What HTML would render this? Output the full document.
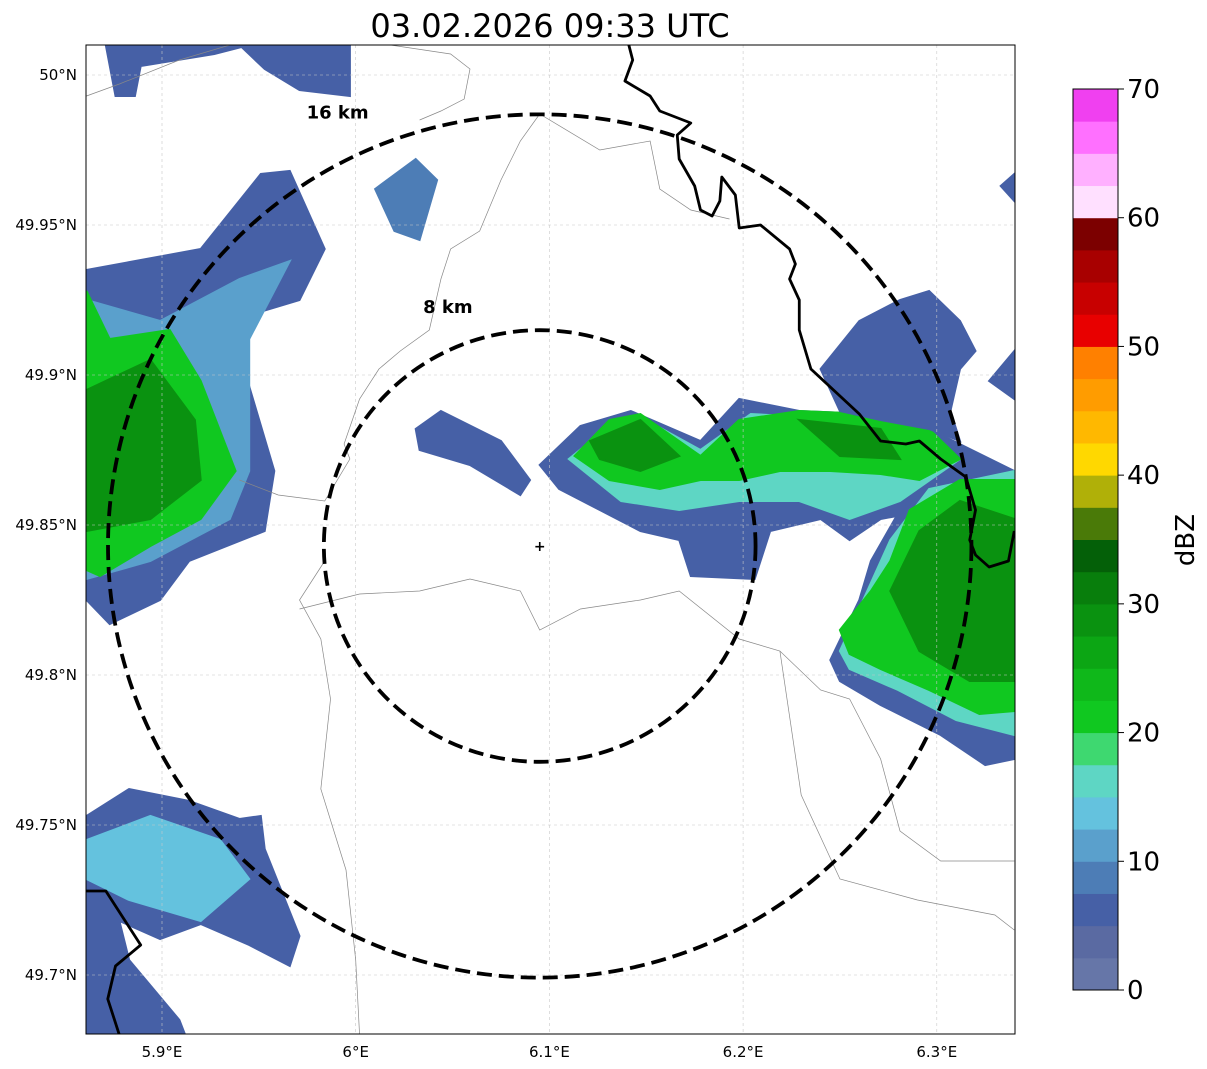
<!DOCTYPE html>
<html><head><meta charset="utf-8"><style>
html,body{margin:0;padding:0;background:#fff;width:1207px;height:1069px;overflow:hidden}
svg{font-family:"DejaVu Sans","Liberation Sans",sans-serif}
</style></head><body>
<svg id="chart" width="1207" height="1069" viewBox="0 0 1207 1069" xmlns="http://www.w3.org/2000/svg">
<text x="550" y="37" text-anchor="middle" font-size="32">03.02.2026 09:33 UTC</text>
<defs><clipPath id="mapclip"><rect x="86" y="45" width="929" height="989"/></clipPath></defs>
<g id="map" clip-path="url(#mapclip)"></g>
<rect x="86" y="45" width="929" height="989" fill="none" stroke="#000" stroke-width="1"/>
<g id="axes"></g>
<g id="cbar"></g>
</svg>
<script>
const NS="http://www.w3.org/2000/svg";
// axis ticks
const lonTicks=[5.9,6.0,6.1,6.2,6.3];
const lonTickLabels=["5.9°E","6°E","6.1°E","6.2°E","6.3°E"];
const latTicks=[50.0,49.95,49.9,49.85,49.8,49.75,49.7];
const latTickLabels=["50°N","49.95°N","49.9°N","49.85°N","49.8°N","49.75°N","49.7°N"];
// colorbar
const cbarTicks=[0,10,20,30,40,50,60,70];
const cbarColors=["#6676a8","#5a6aa2","#4660a6","#4d7db6","#5aa0cc","#64c2de","#5ed6c4","#3ed870","#10c820","#0fb81a","#0ca614","#0a9210","#087e0c","#046008","#4a7a08","#b0b008","#ffd800","#ffb800","#ff9c00","#ff8000","#e80000","#c80000","#a80000","#7c0000","#ffe0ff","#ffb0ff","#ff70ff","#f040f0"];
// radar site & range rings
const siteLon=6.095, siteLat=49.843;
const ringKm=[8,16];
const ringLabels=["8 km","16 km"];
// echo areas: dBZ values and outlines [lon,lat]
const echoDbz=[5,5,8,5,12,22,28,6,5,15,22,28,28,5,5,5,5,15,22,28,5,13];
const echoShapes=[
[[5.871,50.010],[5.945,50.010],[5.927,50.007],[5.889,50.003],[5.886,49.993],[5.876,49.993]],
[[5.940,50.010],[5.997,50.010],[5.997,49.993],[5.971,49.995],[5.953,50.002]],
[[6.010,49.962],[6.031,49.972],[6.042,49.965],[6.033,49.945],[6.020,49.948]],
[[5.861,49.935],[5.920,49.942],[5.951,49.967],[5.966,49.968],[5.984,49.942],[5.971,49.925],[5.935,49.918],[5.958,49.868],[5.953,49.848],[5.914,49.838],[5.899,49.825],[5.873,49.817],[5.861,49.825]],
[[5.861,49.925],[5.899,49.918],[5.940,49.932],[5.966,49.938],[5.945,49.912],[5.945,49.868],[5.935,49.852],[5.894,49.838],[5.861,49.832]],
[[5.861,49.928],[5.873,49.912],[5.904,49.915],[5.920,49.898],[5.938,49.868],[5.920,49.852],[5.894,49.843],[5.868,49.833],[5.861,49.835]],
[[5.861,49.895],[5.894,49.905],[5.917,49.885],[5.920,49.865],[5.894,49.852],[5.861,49.848]],
[[6.031,49.882],[6.044,49.888],[6.075,49.878],[6.090,49.865],[6.085,49.860],[6.059,49.870],[6.033,49.875]],
[[6.095,49.870],[6.116,49.883],[6.142,49.888],[6.178,49.878],[6.198,49.892],[6.229,49.888],[6.266,49.887],[6.296,49.882],[6.340,49.868],[6.340,49.852],[6.296,49.855],[6.271,49.852],[6.255,49.845],[6.240,49.852],[6.214,49.848],[6.206,49.832],[6.173,49.833],[6.167,49.845],[6.147,49.848],[6.126,49.855],[6.105,49.862]],
[[6.110,49.872],[6.131,49.883],[6.147,49.886],[6.178,49.875],[6.204,49.887],[6.260,49.885],[6.312,49.872],[6.281,49.858],[6.255,49.852],[6.229,49.858],[6.198,49.858],[6.167,49.855],[6.137,49.858]],
[[6.113,49.873],[6.131,49.885],[6.147,49.887],[6.178,49.873],[6.198,49.885],[6.229,49.888],[6.266,49.887],[6.296,49.882],[6.312,49.872],[6.291,49.865],[6.271,49.867],[6.245,49.868],[6.219,49.868],[6.198,49.865],[6.178,49.865],[6.157,49.862],[6.131,49.865]],
[[6.121,49.878],[6.147,49.885],[6.167,49.873],[6.147,49.868],[6.126,49.872]],
[[6.229,49.885],[6.271,49.882],[6.281,49.872],[6.250,49.873]],
[[6.240,49.902],[6.260,49.918],[6.281,49.925],[6.296,49.928],[6.312,49.918],[6.320,49.908],[6.312,49.902],[6.307,49.888],[6.312,49.878],[6.296,49.882],[6.271,49.885],[6.250,49.888]],
[[6.327,49.898],[6.340,49.908],[6.340,49.892]],
[[6.333,49.963],[6.340,49.967],[6.340,49.958]],
[[6.245,49.805],[6.260,49.825],[6.266,49.838],[6.281,49.855],[6.312,49.868],[6.340,49.868],[6.340,49.772],[6.325,49.770],[6.302,49.780],[6.271,49.790],[6.250,49.798]],
[[6.250,49.808],[6.262,49.825],[6.276,49.845],[6.296,49.862],[6.340,49.868],[6.340,49.780],[6.310,49.785],[6.280,49.795],[6.255,49.802]],
[[6.250,49.815],[6.266,49.828],[6.276,49.838],[6.286,49.855],[6.312,49.865],[6.340,49.865],[6.340,49.788],[6.322,49.787],[6.296,49.795],[6.271,49.802],[6.255,49.807]],
[[6.276,49.828],[6.291,49.848],[6.312,49.858],[6.340,49.852],[6.340,49.798],[6.317,49.798],[6.291,49.808]],
[[5.861,49.753],[5.883,49.762],[5.914,49.758],[5.940,49.752],[5.951,49.753],[5.953,49.742],[5.971,49.713],[5.966,49.703],[5.945,49.710],[5.920,49.717],[5.899,49.712],[5.878,49.718],[5.883,49.705],[5.909,49.685],[5.912,49.680],[5.861,49.680]],
[[5.861,49.745],[5.894,49.753],[5.930,49.745],[5.945,49.732],[5.920,49.718],[5.883,49.725],[5.861,49.732]]
];
// borders
const countryBorders=[
[[6.141,50.010],[6.143,50.005],[6.139,49.998],[6.152,49.993],[6.157,49.988],[6.173,49.984],[6.166,49.980],[6.167,49.972],[6.175,49.963],[6.178,49.955],[6.184,49.953],[6.188,49.958],[6.189,49.966],[6.196,49.960],[6.198,49.949],[6.209,49.950],[6.224,49.942],[6.227,49.937],[6.224,49.932],[6.229,49.925],[6.229,49.915],[6.235,49.902],[6.250,49.893],[6.260,49.887],[6.271,49.878],[6.284,49.877],[6.291,49.878],[6.302,49.872],[6.315,49.866],[6.320,49.855],[6.317,49.845],[6.320,49.840],[6.327,49.836],[6.337,49.838],[6.340,49.848]],
[[5.861,49.728],[5.871,49.728],[5.881,49.718],[5.889,49.710],[5.876,49.703],[5.872,49.692],[5.878,49.680]]
];
const regionBorders=[
[[5.971,49.822],[6.002,49.827],[6.033,49.828],[6.059,49.832],[6.085,49.828],[6.095,49.815],[6.116,49.822],[6.147,49.825],[6.167,49.828],[6.198,49.812],[6.219,49.808],[6.240,49.795],[6.255,49.792],[6.271,49.772],[6.281,49.748],[6.302,49.738],[6.340,49.738]],
[[5.984,49.838],[5.971,49.825],[5.982,49.812],[5.987,49.792],[5.982,49.762],[5.995,49.735],[6.000,49.705],[6.002,49.680]],
[[6.095,49.987],[6.085,49.978],[6.075,49.965],[6.064,49.948],[6.049,49.942],[6.044,49.932],[6.038,49.915],[6.023,49.908],[6.012,49.902],[6.002,49.892],[5.994,49.877],[5.997,49.872],[5.984,49.858],[5.960,49.860],[5.940,49.865]],
[[6.095,49.987],[6.126,49.975],[6.152,49.978],[6.157,49.962],[6.173,49.955],[6.193,49.952]],
[[5.861,49.993],[5.878,49.997],[5.909,50.005],[5.935,50.010]],
[[6.018,50.010],[6.049,50.007],[6.059,50.002],[6.056,49.992],[6.044,49.988],[6.033,49.985]],
[[6.219,49.808],[6.230,49.760],[6.250,49.732],[6.290,49.725],[6.330,49.720],[6.340,49.715]]
];

const X=lon=>162+(lon-5.9)*1937;
const Y=lat=>75+(50-lat)*3000;
const CB=v=>990-(v/70)*901;
function mk(tag,attrs,parent){const e=document.createElementNS(NS,tag);for(const k in attrs)e.setAttribute(k,attrs[k]);parent.appendChild(e);return e;}
function colorFor(d){return cbarColors[Math.min(27,Math.floor(d/2.5))];}
const map=document.getElementById('map'),axes=document.getElementById('axes'),cbar=document.getElementById('cbar');

echoShapes.forEach((s,i)=>{
  const p=mk('polygon',{points:s.map(q=>X(q[0]).toFixed(1)+','+Y(q[1]).toFixed(1)).join(' '),fill:colorFor(echoDbz[i]),stroke:colorFor(echoDbz[i]),'stroke-width':2},map);
  
  
});
lonTicks.forEach(t=>{const l=mk('line',{x1:X(t),x2:X(t),y1:45,y2:1034,stroke:'#c8c8c8','stroke-width':0.6,'stroke-dasharray':'3,3'},map);
  });
latTicks.forEach(t=>{const l=mk('line',{x1:86,x2:1015,y1:Y(t),y2:Y(t),stroke:'#c8c8c8','stroke-width':0.6,'stroke-dasharray':'3,3'},map);
  });
regionBorders.forEach(b=>{const l=mk('polyline',{points:b.map(q=>X(q[0])+','+Y(q[1])).join(' '),fill:'none',stroke:'#888','stroke-width':0.7},map);
  });
countryBorders.forEach(b=>{const l=mk('polyline',{points:b.map(q=>X(q[0])+','+Y(q[1])).join(' '),fill:'none',stroke:'#000','stroke-width':2.8,'stroke-linejoin':'round'},map);
  });
const labFx=[-0.54,-0.54], labFy=[-1.08,-0.99];
ringKm.forEach((km,i)=>{
  const rlat=km/111.2, rlon=km/(111.32*Math.cos(siteLat*Math.PI/180));
  const rx=X(siteLon+rlon)-X(siteLon), ry=Y(siteLat-rlat)-Y(siteLat);
  const e=mk('ellipse',{cx:X(siteLon),cy:Y(siteLat),rx:rx,ry:ry,fill:'none',stroke:'#000','stroke-width':3.8,'stroke-dasharray':'15,7'},map);
  
  const t=mk('text',{x:X(siteLon)+rx*labFx[i],y:Y(siteLat)+ry*labFy[i],'font-size':18,'font-weight':'bold'},map);
  t.textContent=ringLabels[i];
  
});
const sm=mk('text',{x:X(siteLon),y:Y(siteLat)+5,'font-size':14,'font-weight':'bold','text-anchor':'middle'},map);
sm.textContent='+';

lonTicks.forEach((t,i)=>{const e=mk('text',{x:X(t),y:1057,'font-size':15,'text-anchor':'middle'},axes);e.textContent=lonTickLabels[i];
  });
latTicks.forEach((t,i)=>{const e=mk('text',{x:77,y:Y(t)+5,'font-size':15,'text-anchor':'end'},axes);e.textContent=latTickLabels[i];
  });
for(let i=0;i<28;i++){const r=mk('rect',{x:1073,y:CB((i+1)*2.5),width:45,height:CB(i*2.5)-CB((i+1)*2.5)+0.5,fill:cbarColors[i]},cbar);
  }
const cf=mk('rect',{x:1073,y:CB(70),width:45,height:CB(0)-CB(70),fill:'none',stroke:'#000','stroke-width':1},cbar);

cbarTicks.forEach(v=>{const l=mk('line',{x1:1118,x2:1124,y1:CB(v),y2:CB(v),stroke:'#000'},cbar);
  
  const t=mk('text',{x:1127,y:CB(v)+9,'font-size':26},cbar);t.textContent=v;
  });
const cl=mk('text',{x:1194,y:540,'font-size':26,'text-anchor':'middle',transform:'rotate(-90 1194 540)'},cbar);
cl.textContent='dBZ';

</script>
</body></html>
